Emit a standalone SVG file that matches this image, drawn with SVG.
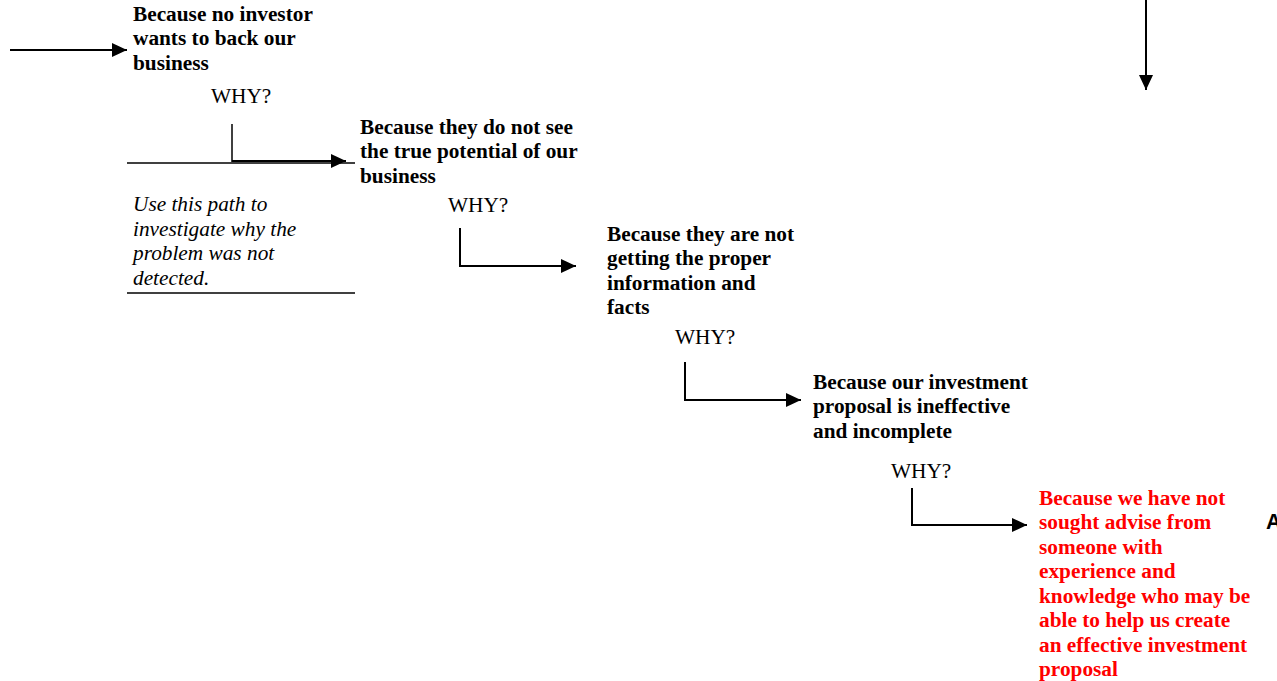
<svg xmlns="http://www.w3.org/2000/svg" width="1277" height="681" viewBox="0 0 1277 681">
<style>
.b{font-family:"Liberation Serif","Times New Roman",serif;font-weight:bold;font-size:21.3px;fill:#000}
.r{fill:#ff0000}
.w{font-family:"Liberation Serif","Times New Roman",serif;font-size:21.3px;fill:#000}
.i{font-family:"Liberation Serif","Times New Roman",serif;font-style:italic;font-size:21.3px;fill:#000}
.s{font-family:"Liberation Sans",Arial,sans-serif;font-weight:bold;font-size:21.3px;fill:#000}
.ln{stroke:#000;stroke-width:2;fill:none}
.thin{stroke:#000;stroke-width:1.5;fill:none}
</style>
<defs>
<marker id="ah" markerUnits="userSpaceOnUse" viewBox="0 0 15 14" refX="15" refY="7" markerWidth="15" markerHeight="14" orient="auto">
<path d="M0,0 L15,7 L0,14 Z" fill="#000"/>
</marker>
</defs>
<rect width="1277" height="681" fill="#fff"/>
<g id="connectors">
<line class="ln" x1="10" y1="50" x2="127" y2="50" marker-end="url(#ah)"/>
<path class="thin" d="M232,124 V162"/>
<line class="thin" x1="127" y1="163" x2="355" y2="163"/>
<line class="ln" x1="232" y1="161" x2="346" y2="161" marker-end="url(#ah)"/>
<path class="ln" d="M460,228 V266 H576" marker-end="url(#ah)"/>
<path class="ln" d="M685,362 V400 H801" marker-end="url(#ah)"/>
<path class="ln" d="M912,488 V525 H1027" marker-end="url(#ah)"/>
<line class="ln" x1="1146" y1="0" x2="1146" y2="90" marker-end="url(#ah)"/>
<line class="thin" x1="127" y1="293" x2="355" y2="293"/>
</g>
<g id="node1">
<text class="b" x="133"><tspan x="133" y="21">Because no investor</tspan><tspan x="133" y="45">wants to back our</tspan><tspan x="133" y="70">business</tspan></text>
<text class="w" x="211" y="103">WHY?</text>
</g>
<g id="node2">
<text class="b"><tspan x="360" y="134">Because they do not see</tspan><tspan x="360" y="158">the true potential of our</tspan><tspan x="360" y="183">business</tspan></text>
<text class="w" x="448" y="212">WHY?</text>
</g>
<g id="note">
<text class="i"><tspan x="133" y="211">Use this path to</tspan><tspan x="133" y="236">investigate why the</tspan><tspan x="133" y="260">problem was not</tspan><tspan x="133" y="285">detected.</tspan></text>
</g>
<g id="node3">
<text class="b"><tspan x="607" y="241">Because they are not</tspan><tspan x="607" y="265">getting the proper</tspan><tspan x="607" y="290">information and</tspan><tspan x="607" y="314">facts</tspan></text>
<text class="w" x="675" y="344">WHY?</text>
</g>
<g id="node4">
<text class="b"><tspan x="813" y="389">Because our investment</tspan><tspan x="813" y="413">proposal is ineffective</tspan><tspan x="813" y="438">and incomplete</tspan></text>
<text class="w" x="891" y="478">WHY?</text>
</g>
<g id="node5">
<text class="b r"><tspan x="1039" y="505">Because we have not</tspan><tspan x="1039" y="529">sought advise from</tspan><tspan x="1039" y="554">someone with</tspan><tspan x="1039" y="578">experience and</tspan><tspan x="1039" y="603">knowledge who may be</tspan><tspan x="1039" y="627">able to help us create</tspan><tspan x="1039" y="652">an effective investment</tspan><tspan x="1039" y="676">proposal</tspan></text>
</g>
<g id="node6">
<text class="s" x="1266" y="529">A</text>
</g>
</svg>
